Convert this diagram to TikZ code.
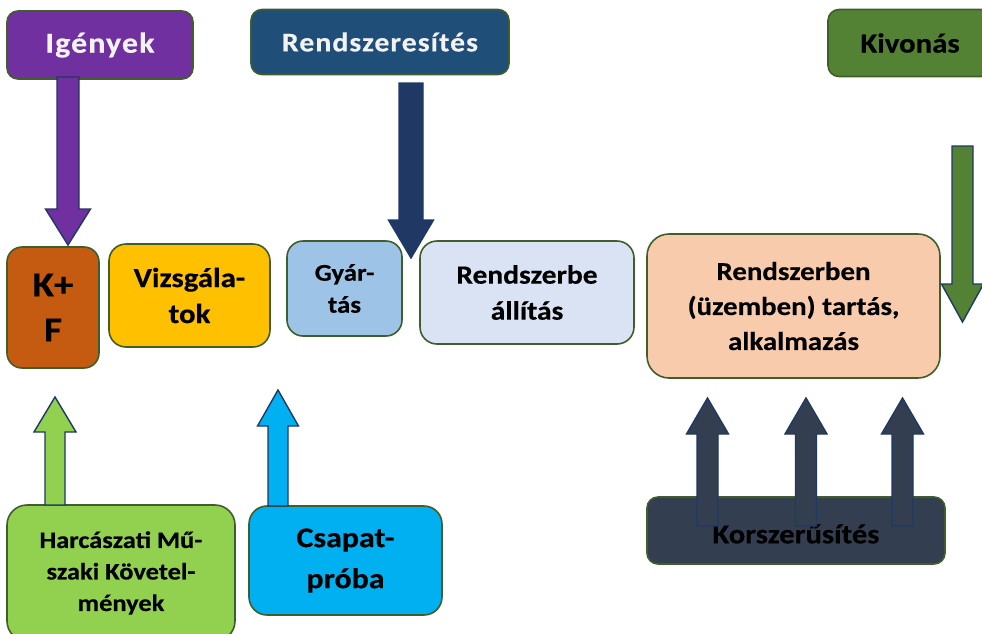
\documentclass[tikz,border=0pt]{standalone}
\usepackage{fontspec}
\setmainfont{Carlito}[FakeStretch=1.12, BoldFeatures={FakeBold=0.4}]
\newfontfamily\spacedfont{Carlito}[FakeStretch=1.1, LetterSpace=4, BoldFeatures={FakeBold=0.4}]
\newcommand{\fsz}[2]{\fontsize{#1pt}{#2pt}\selectfont\bfseries}
\newcommand{\vblockarrow}[7]{%
  \draw[#1] ({#2-#6},#3) -- ({#2-#6},#4) -- ({#2-#7},#4) -- (#2,#5)
     -- ({#2+#7},#4) -- ({#2+#6},#4) -- ({#2+#6},#3) -- cycle;}
\definecolor{bord}{HTML}{3F5F2A}
\definecolor{abord}{HTML}{1F3864}
\definecolor{cpurple}{HTML}{7030A0}
\definecolor{cnavy}{HTML}{1F4E79}
\definecolor{cdkblue}{HTML}{203864}
\definecolor{cgreen}{HTML}{548235}
\definecolor{corange}{HTML}{C55A11}
\definecolor{cgold}{HTML}{FFC000}
\definecolor{cltblue}{HTML}{9DC3E6}
\definecolor{cpale}{HTML}{DAE3F3}
\definecolor{cpeach}{HTML}{F8CBAD}
\definecolor{cslate}{HTML}{333F50}
\definecolor{clime}{HTML}{92D050}
\definecolor{ccyan}{HTML}{00B0F0}
\definecolor{ctxt}{HTML}{F2F2F2}
\tikzset{
  box/.style={draw=bord, line width=1.6pt, inner sep=0pt, align=center, text=black},
  barrow/.style={draw=abord, line width=1.4pt, line join=miter},
}
\begin{document}
\begin{tikzpicture}[x=1pt,y=-1pt]
\useasboundingbox (0,0) rectangle (982,633);
\clip (0,0) rectangle (982,633);
% top boxes
\node[box, fill=cpurple, text=ctxt, minimum width=186, minimum height=68, rounded corners=11, font=\spacedfont\fsz{29}{36}] (igenyek) at (100,45) {Igények};
\node[box, fill=cnavy, text=ctxt, minimum width=258, minimum height=65, rounded corners=11, font=\spacedfont\fsz{27}{34}] (rendsz) at (380,42) {Rendszeresítés};
\node[box, fill=cgreen, minimum width=164, minimum height=67, rounded corners=11, font=\fsz{27.5}{33}] (kivonas) at (910,43) {Kivonás};
% middle boxes
\node[box, fill=corange, minimum width=92, minimum height=121, rounded corners=15, font=\fsz{35}{45}] (kf) at (53,307.5) {K+\\F};
\node[box, fill=cgold, minimum width=161, minimum height=103, rounded corners=17, font=\fsz{27.5}{36}] (vizsg) at (189.5,295.5) {Vizsgála-\\tok};
\node[box, fill=cltblue, minimum width=115, minimum height=95, rounded corners=16, font=\fsz{24}{32}] (gyartas) at (344.5,288.5) {Gyár-\\tás};
\node[box, fill=cpale, minimum width=214, minimum height=103, rounded corners=17, font=\fsz{26.3}{36}] (rbe) at (527,292.5) {Rendszerbe\\állítás};
\node[box, fill=cpeach, minimum width=293, minimum height=144, rounded corners=22, font=\fsz{25.8}{35}] (rben) at (793.5,306) {Rendszerben\\(üzemben) tartás,\\alkalmazás};
% bottom boxes
\node[box, fill=clime, minimum width=228, minimum height=136, rounded corners=20, font=\fsz{23.6}{31.5}] (harc) at (121,573) {Harcászati Mű-\\szaki Követel-\\mények};
\node[box, fill=ccyan, minimum width=193, minimum height=109, rounded corners=18, font=\fsz{28.5}{41}] (csapat) at (345.5,560.5) {Csapat-\\próba};
\node[box, fill=cslate, minimum width=298, minimum height=67, rounded corners=11] (korsz) at (796,530.5) {};
\node[font=\fsz{27.3}{33}, text=black, inner sep=0pt] (korsztxt) at (796,534) {Korszerűsítés};
% block arrows
\vblockarrow{barrow, fill=cpurple}{68}{77}{209}{245}{11}{22.5}
\vblockarrow{barrow, fill=cdkblue, draw=cdkblue}{411}{83}{220}{258}{12}{22.5}
\vblockarrow{barrow, fill=cgreen}{962.5}{146}{284}{322}{10.5}{21}
\vblockarrow{barrow, fill=clime}{55}{505}{432}{397}{10}{21}
\vblockarrow{barrow, fill=ccyan}{278}{506}{426}{390}{10}{20.5}
\vblockarrow{barrow, fill=cslate}{707.5}{526}{434}{398}{10.5}{21}
\vblockarrow{barrow, fill=cslate}{806}{526}{434}{398}{10.5}{21}
\vblockarrow{barrow, fill=cslate}{902.5}{526}{434}{398}{10.5}{21}
\end{tikzpicture}
\end{document}
